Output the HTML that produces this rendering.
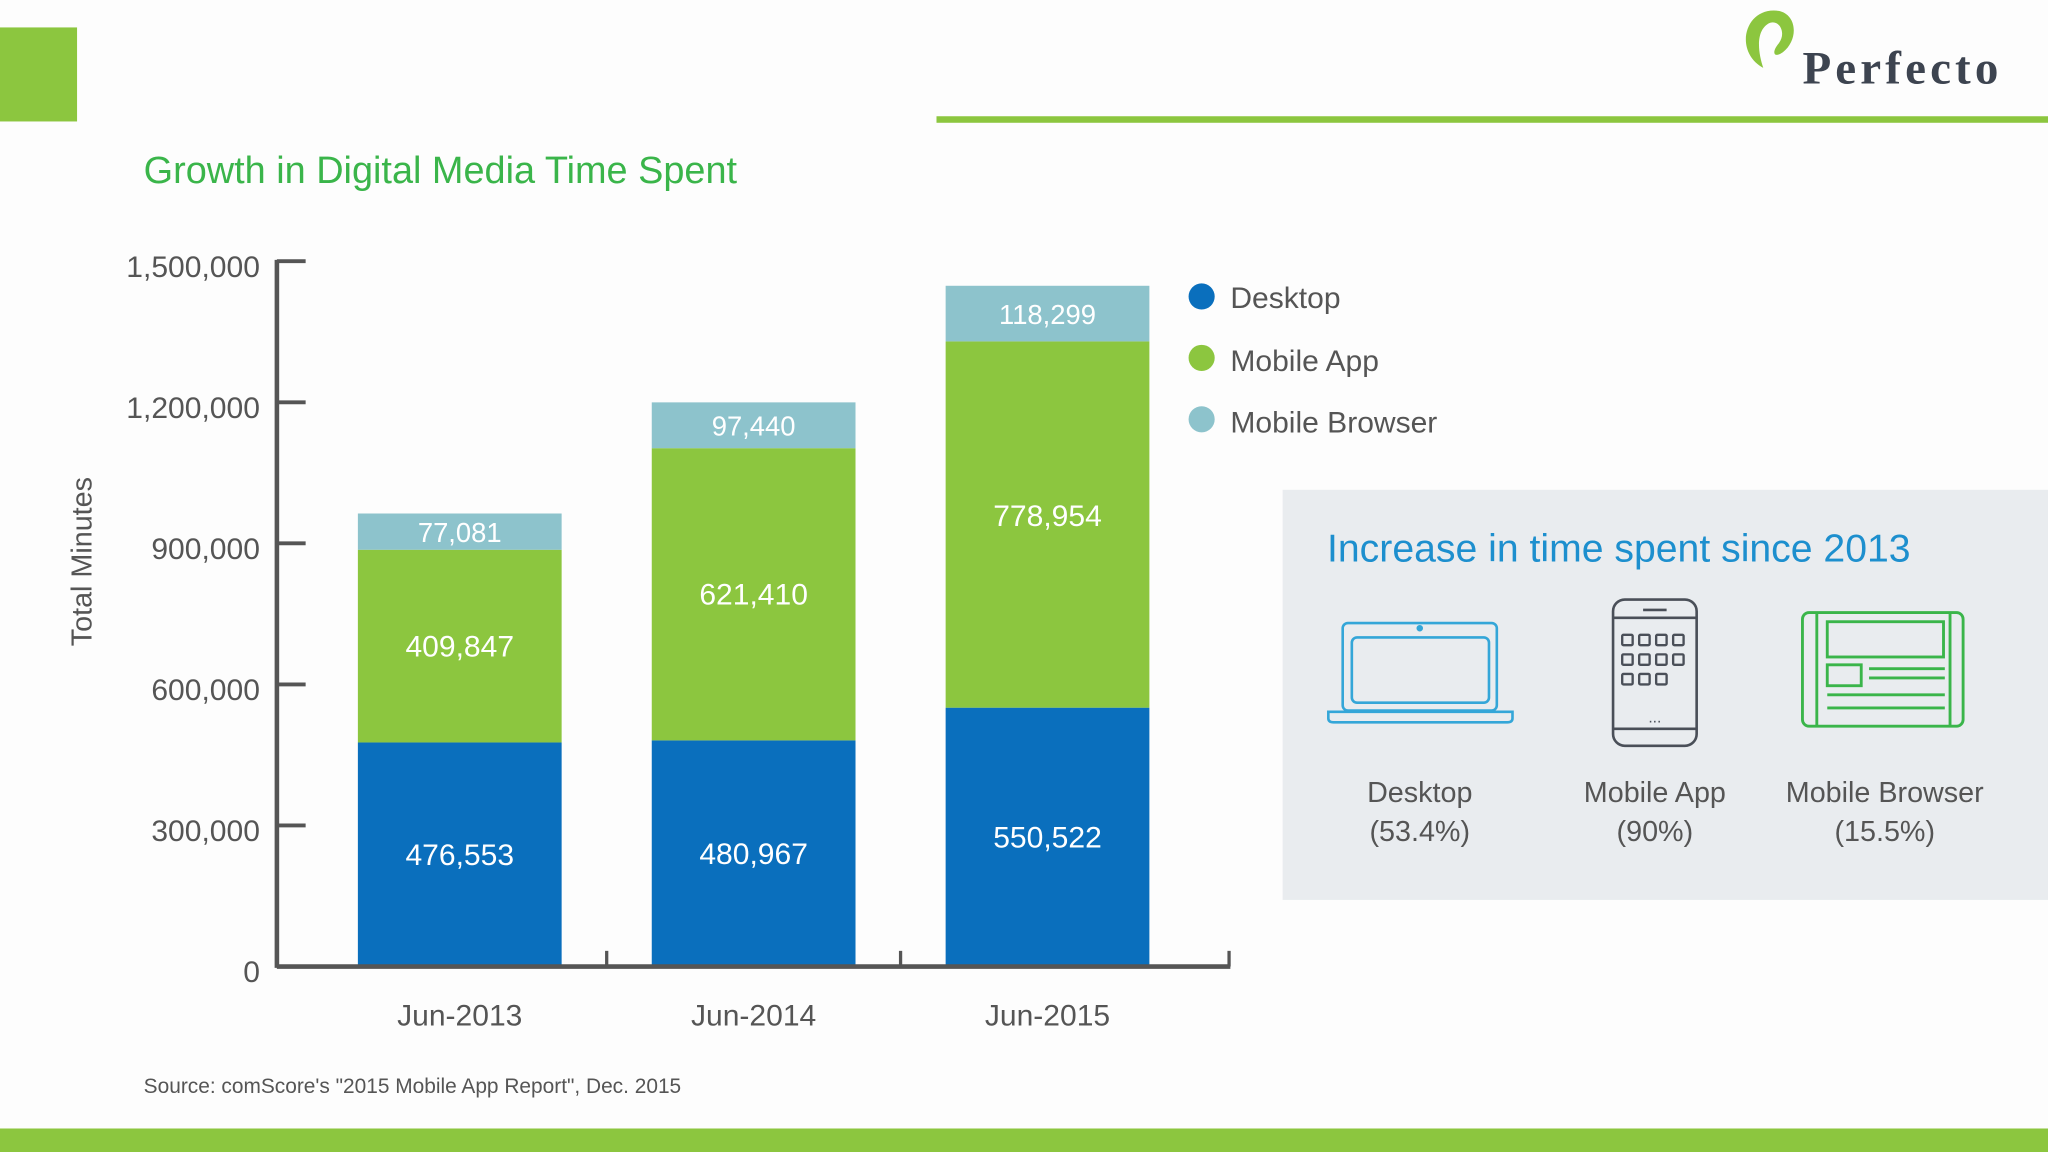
<!DOCTYPE html>
<html><head><meta charset="utf-8"><style>
html,body{margin:0;padding:0;background:#fff;width:2048px;height:1152px;overflow:hidden}
svg text{font-family:"Liberation Sans Narrow","Liberation Sans",sans-serif}
</style></head><body>
<svg id="s" width="2048" height="1152" viewBox="0 0 1568 882" xmlns="http://www.w3.org/2000/svg">
<rect x="0" y="0" width="1568" height="882" fill="#fdfdfd"/>
<rect x="0" y="21" width="59" height="72" fill="#8cc63f"/>
<rect x="717" y="89" width="851" height="5" fill="#8cc63f"/>
<rect x="0" y="864" width="1568" height="18" fill="#8cc63f"/>
<g>
<path d="M1350 52 C1328 40 1335 8 1358 8 C1376 8 1378 30 1365 40 C1358 45 1356 40 1362 33 C1368 25 1362 14 1354 18 C1344 24 1346 40 1350 52Z" fill="#8cc63f"/>
<text x="1380" y="64" font-size="36" font-weight="bold" fill="#3d4450" textLength="150" style="font-family:'Liberation Serif',serif">Perfecto</text>
</g>
<text x="110" y="140" font-size="29" fill="#3ab54a">Growth in Digital Media Time Spent</text>
<text transform="translate(70,430) rotate(-90)" text-anchor="middle" font-size="22" fill="#555">Total Minutes</text>
<g id="chart"></g>
<g>
<circle cx="920" cy="227" r="10" fill="#0a6fbd"/><text x="942" y="236" font-size="23" fill="#555">Desktop</text>
<circle cx="920" cy="274" r="10" fill="#8cc63f"/><text x="942" y="284" font-size="23" fill="#555">Mobile App</text>
<circle cx="920" cy="321" r="10" fill="#8dc3cc"/><text x="942" y="331" font-size="23" fill="#555">Mobile Browser</text>
</g>
<text x="110" y="837" font-size="16" fill="#555">Source: comScore's "2015 Mobile App Report", Dec. 2015</text>
<g>
<rect x="982" y="375" width="586" height="314" fill="#e9ecef"/>
<text x="1016" y="430" font-size="30" fill="#1d8fce">Increase in time spent since 2013</text>
<g fill="none" stroke="#34a6d8" stroke-width="2">
<rect x="1028" y="477" width="118" height="67" rx="4"/><rect x="1035" y="488" width="105" height="50" rx="4"/>
<path d="M1017 545 H1158 V550 Q1158 553 1154 553 H1021 Q1017 553 1017 550Z"/><circle cx="1087" cy="481" r="1.5" fill="#34a6d8"/>
</g>
<g fill="none" stroke="#4a4f58" stroke-width="2">
<rect x="1235" y="459" width="64" height="112" rx="9"/><line x1="1235" y1="473" x2="1299" y2="473"/><line x1="1235" y1="558" x2="1299" y2="558"/>
<line x1="1258" y1="467" x2="1276" y2="467"/>
<g stroke-width="1.8">
<rect x="1242" y="486" width="8" height="8" rx="1"/><rect x="1255" y="486" width="8" height="8" rx="1"/><rect x="1268" y="486" width="8" height="8" rx="1"/><rect x="1281" y="486" width="8" height="8" rx="1"/>
<rect x="1242" y="501" width="8" height="8" rx="1"/><rect x="1255" y="501" width="8" height="8" rx="1"/><rect x="1268" y="501" width="8" height="8" rx="1"/><rect x="1281" y="501" width="8" height="8" rx="1"/>
<rect x="1242" y="516" width="8" height="8" rx="1"/><rect x="1255" y="516" width="8" height="8" rx="1"/><rect x="1268" y="516" width="8" height="8" rx="1"/>
</g>
<text x="1267" y="553" text-anchor="middle" font-size="12" fill="#4a4f58" stroke="none">...</text>
</g>
<g fill="none" stroke="#3ab54a" stroke-width="2.2">
<rect x="1380" y="469" width="123" height="87" rx="5"/><line x1="1391" y1="469" x2="1391" y2="556"/><line x1="1493" y1="469" x2="1493" y2="556"/>
<rect x="1399" y="476" width="89" height="27"/><rect x="1399" y="509" width="26" height="16"/>
<line x1="1431" y1="512" x2="1489" y2="512"/><line x1="1431" y1="519" x2="1489" y2="519"/><line x1="1399" y1="532" x2="1489" y2="532"/><line x1="1399" y1="542" x2="1489" y2="542"/>
</g>
<g font-size="22" fill="#555" text-anchor="middle">
<text x="1087" y="614">Desktop</text><text x="1087" y="644">(53.4%)</text>
<text x="1267" y="614">Mobile App</text><text x="1267" y="644">(90%)</text>
<text x="1443" y="614">Mobile Browser</text><text x="1443" y="644">(15.5%)</text>
</g>
</g>
</svg>
<script>
const categories=["Jun-2013","Jun-2014","Jun-2015"];
const desktop=[476553,480967,550522];
const mobileApp=[409847,621410,778954];
const mobileBrowser=[77081,97440,118299];
const yTicks=[0,300000,600000,900000,1200000,1500000];
const NS="http://www.w3.org/2000/svg";
const g=document.getElementById('chart');
const y0=740,yTop=200,yMax=1500000;
const y=v=>y0-(v/yMax)*(y0-yTop);
const x=i=>352+i*225;
const bw=156;
function el(t,a,txt){const e=document.createElementNS(NS,t);for(const k in a)e.setAttribute(k,a[k]);if(txt!==undefined)e.textContent=txt;g.appendChild(e);return e;}
const fmt=v=>v.toLocaleString('en-US');
yTicks.forEach(t=>{
 const l=el('line',{x1:212,x2:234,y1:y(t),y2:y(t),stroke:'#555','stroke-width':3});
 
 
 const tx=el('text',{x:199,y:y(t)+12,'text-anchor':'end','font-size':23,fill:'#555'},fmt(t));
 
 
});
const series=[[desktop,'#0a6fbd','bar-desktop'],[mobileApp,'#8cc63f','bar-mobile-app'],[mobileBrowser,'#8dc3cc','bar-mobile-browser']];
categories.forEach((c,i)=>{
 let base=0;
 series.forEach(([arr,col,nm],si)=>{
  const v=arr[i];const top=base+v;
  const r=el('rect',{x:x(i)-bw/2,y:y(top),width:bw,height:y(base)-y(top),fill:col});
  
  
  const t=el('text',{x:x(i),y:(y(top)+y(base))/2+(si==1&&i==2?1:8),'text-anchor':'middle','font-size':si==2?21:23,fill:'#fff'},fmt(v));
  
  
  base=top;
 });
 const cl=el('text',{x:x(i),y:785,'text-anchor':'middle','font-size':23,fill:'#555'},c);
 
 
 const tx=i<categories.length-1?x(i)+112.5:941;
 const tk=el('line',{x1:tx,x2:tx,y1:y0-12,y2:y0,stroke:'#555','stroke-width':2.5});
 
 
});
const xa=el('line',{x1:212,x2:942,y1:y0,y2:y0,stroke:'#555','stroke-width':3.5});


const ya=el('line',{x1:212,x2:212,y1:yTop-1,y2:y0+1,stroke:'#555','stroke-width':3.5});


</script>
</body></html>
